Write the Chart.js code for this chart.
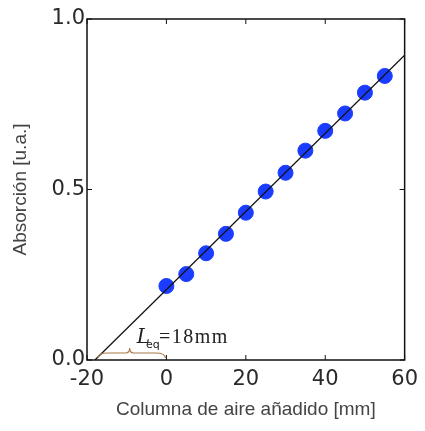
<!DOCTYPE html>
<html>
<head>
<meta charset="utf-8">
<script src="https://cdn.jsdelivr.net/npm/chart.js@4/dist/chart.umd.min.js"></script>
<style>
  html, body { margin: 0; padding: 0; background: #fff; }
  #wrap { width: 425px; height: 431px; }
</style>
</head>
<body>
<div id="wrap"><canvas id="chart" width="425" height="431"></canvas></div>
<script>
// Measured points: added air column (mm) vs absorption (a.u.)
const airColumn = [0, 5, 10, 15, 20, 25, 30, 35, 40, 45, 50, 55];
const absorption = [0.217, 0.252, 0.313, 0.370, 0.432, 0.494, 0.549, 0.614, 0.672, 0.723, 0.784, 0.833];

// Fitted line, extrapolated back to zero absorption
const fitX = [-18, 60];
const fitY = [0, 0.894];

// Equivalent length brace
const braceRange = [-18, 0];
const braceLabel = '=18mm';

const xTicks = [-20, 0, 20, 40, 60];
const yTicks = [0, 0.5, 1.0];

// frame, inward ticks and the L_eq brace
const framePlugin = {
    id: 'frame',
    afterDatasetsDraw(chart) {
        const ctx = chart.ctx;
        const a = chart.chartArea;
        const xs = chart.scales.x, ys = chart.scales.y;
        ctx.save();
        ctx.strokeStyle = '#111';
        ctx.lineWidth = 1.5;
        ctx.strokeRect(a.left, a.top, a.right - a.left, a.bottom - a.top);

        ctx.lineWidth = 1;
        ctx.beginPath();
        xTicks.forEach(function(v) {
            const px = xs.getPixelForValue(v);
            ctx.moveTo(px, a.bottom); ctx.lineTo(px, a.bottom - 5);
            ctx.moveTo(px, a.top); ctx.lineTo(px, a.top + 5);
        });
        yTicks.forEach(function(v) {
            const py = ys.getPixelForValue(v);
            ctx.moveTo(a.left, py); ctx.lineTo(a.left + 5, py);
            ctx.moveTo(a.right, py); ctx.lineTo(a.right - 5, py);
        });
        ctx.stroke();

        // brace
        const x1 = xs.getPixelForValue(braceRange[0]) + 3;
        const x2 = xs.getPixelForValue(braceRange[1]) - 1;
        const xm = (x1 + x2) / 2 - 2;
        const y0 = ys.getPixelForValue(0) - 2;
        const h = 5;
        ctx.strokeStyle = '#a87a4a';
        ctx.lineWidth = 1.2;
        ctx.beginPath();
        ctx.moveTo(x1, y0);
        ctx.quadraticCurveTo(x1, y0 - h, x1 + 10, y0 - h);
        ctx.lineTo(xm - 4, y0 - h);
        ctx.quadraticCurveTo(xm, y0 - h, xm, y0 - h - 5);
        ctx.quadraticCurveTo(xm, y0 - h, xm + 4, y0 - h);
        ctx.lineTo(x2 - 10, y0 - h);
        ctx.quadraticCurveTo(x2, y0 - h, x2, y0);
        ctx.stroke();

        // label
        const tx = xs.getPixelForValue(-7.5);
        const ty = ys.getPixelForValue(0.05);
        ctx.fillStyle = '#222';
        ctx.textBaseline = 'alphabetic';
        ctx.font = 'italic 20px "DejaVu Serif"';
        ctx.fillText('L', tx, ty);
        const lw = ctx.measureText('L').width;
        ctx.font = '11px "DejaVu Sans"';
        ctx.fillText('eq', tx + lw - 4, ty + 5);
        ctx.font = '20px "Liberation Serif"';
        ctx.letterSpacing = '1.5px';
        ctx.fillText(braceLabel, tx + lw + 9, ty);
        ctx.restore();
    }
};

const linePoints = fitX.map(function(x, i) { return { x: x, y: fitY[i] }; });
const dataPoints = airColumn.map(function(x, i) { return { x: x, y: absorption[i] }; });

new Chart(document.getElementById('chart'), {
    type: 'scatter',
    data: {
        datasets: [{
            type: 'line',
            data: linePoints,
            borderColor: '#111',
            borderWidth: 1.3,
            pointRadius: 0,
            fill: false
        }, {
            data: dataPoints,
            backgroundColor: '#1a3cff',
            borderColor: '#1a3cff',
            pointRadius: 7.5,
            pointHoverRadius: 7.5
        }]
    },
    options: {
        responsive: false,
        animation: false,
        layout: { padding: { left: 0, right: 18, top: 19, bottom: 0 } },
        plugins: {
            legend: { display: false },
            tooltip: { enabled: false }
        },
        scales: {
            x: {
                type: 'linear',
                min: -20,
                max: 60,
                afterFit: function(s) { s.height = 71; },
                afterBuildTicks: function(s) { s.ticks = xTicks.map(function(v) { return { value: v }; }); },
                grid: { display: false, drawTicks: false },
                border: { display: false },
                ticks: {
                    padding: 7,
                    color: '#2a2a2a',
                    font: { family: 'DejaVu Sans', size: 21 }
                },
                title: {
                    display: true,
                    text: 'Columna de aire añadido [mm]',
                    color: '#444',
                    font: { family: 'Liberation Sans', size: 19 },
                    padding: 10
                }
            },
            y: {
                type: 'linear',
                min: 0,
                max: 1,
                afterFit: function(s) { s.width = 87; },
                afterBuildTicks: function(s) { s.ticks = yTicks.map(function(v) { return { value: v }; }); },
                grid: { display: false, drawTicks: false },
                border: { display: false },
                ticks: {
                    padding: 2,
                    color: '#2a2a2a',
                    font: { family: 'DejaVu Sans', size: 21 },
                    callback: function(v) { return v.toFixed(1); }
                },
                title: {
                    display: true,
                    text: 'Absorción [u.a.]',
                    color: '#444',
                    font: { family: 'Liberation Sans', size: 19 },
                    padding: 9
                }
            }
        }
    },
    plugins: [framePlugin]
});
</script>
</body>
</html>
